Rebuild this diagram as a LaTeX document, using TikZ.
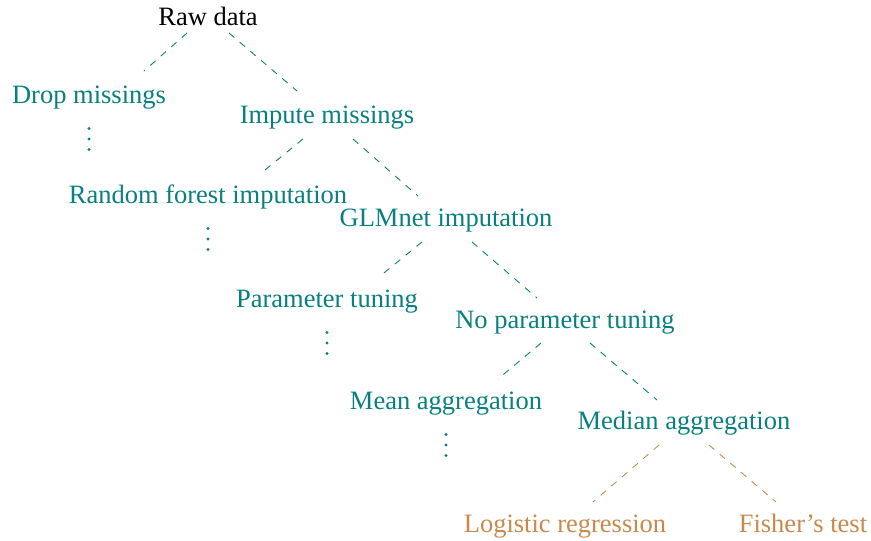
\documentclass[tikz,border=0pt]{standalone}
\usepackage{fontspec}
\setmainfont{Liberation Serif}
\usetikzlibrary{calc}
\definecolor{tealc}{RGB}{8,128,126}
\definecolor{orangec}{RGB}{200,137,77}
\begin{document}
\begin{tikzpicture}[x=1pt,y=-1pt,
  lab/.style={anchor=base,inner sep=0pt,font=\fontsize{26.5}{30}\selectfont},
  tl/.style={lab,text=tealc},
  ol/.style={lab,text=orangec},
  edge/.style={draw=tealc,line width=0.9pt,dash pattern=on 7pt off 7pt},
  oedge/.style={edge,draw=orangec},
  dotc/.style={fill=tealc}]
\useasboundingbox (0,0) rectangle (871,541);
\node[lab] (raw) at (208,25) {Raw data};
\node[tl] (drop) at (89,103) {Drop missings};
\node[tl] (imp) at (327,123) {Impute missings};
\node[tl] (rf) at (208,203) {Random forest imputation};
\node[tl] (glm) at (446,226) {GLMnet imputation};
\node[tl] (par) at (327,307) {Parameter tuning};
\node[tl] (nopar) at (565,328) {No parameter tuning};
\node[tl] (mean) at (446,409) {Mean aggregation};
\node[tl] (med) at (684,429) {Median aggregation};
\node[ol] (logit) at (565,532) {Logistic regression};
\node[ol] (fish) at (803,532) {Fisher’s test};
% connectors
\draw[edge] ($(raw.base)+(-21,8)$) -- ($(drop.base)+(55,-32)$);
\draw[edge] ($(raw.base)+(21,8)$) -- ($(imp.base)+(-30,-32)$);
\draw[edge] ($(imp.base)+(-24,16)$) -- ($(rf.base)+(52,-29)$);
\draw[edge] ($(imp.base)+(26,16)$) -- ($(glm.base)+(-28,-30)$);
\draw[edge] ($(glm.base)+(-24,16)$) -- ($(par.base)+(52,-30)$);
\draw[edge] ($(glm.base)+(26,16)$) -- ($(nopar.base)+(-28,-30)$);
\draw[edge] ($(nopar.base)+(-24,15)$) -- ($(mean.base)+(52,-30)$);
\draw[edge] ($(nopar.base)+(25,15)$) -- ($(med.base)+(-27,-29)$);
\draw[oedge] ($(med.base)+(-25,16)$) -- ($(logit.base)+(28,-30)$);
\draw[oedge] ($(med.base)+(25,16)$) -- ($(fish.base)+(-27,-30)$);
% vertical dots
\foreach \n in {drop,rf,par,mean}{
  \foreach \d in {25.5,36,46.5}{
    \fill[dotc] ($(\n.base)+(0,\d)$) circle (1.6);
  }
}
\end{tikzpicture}
\end{document}
